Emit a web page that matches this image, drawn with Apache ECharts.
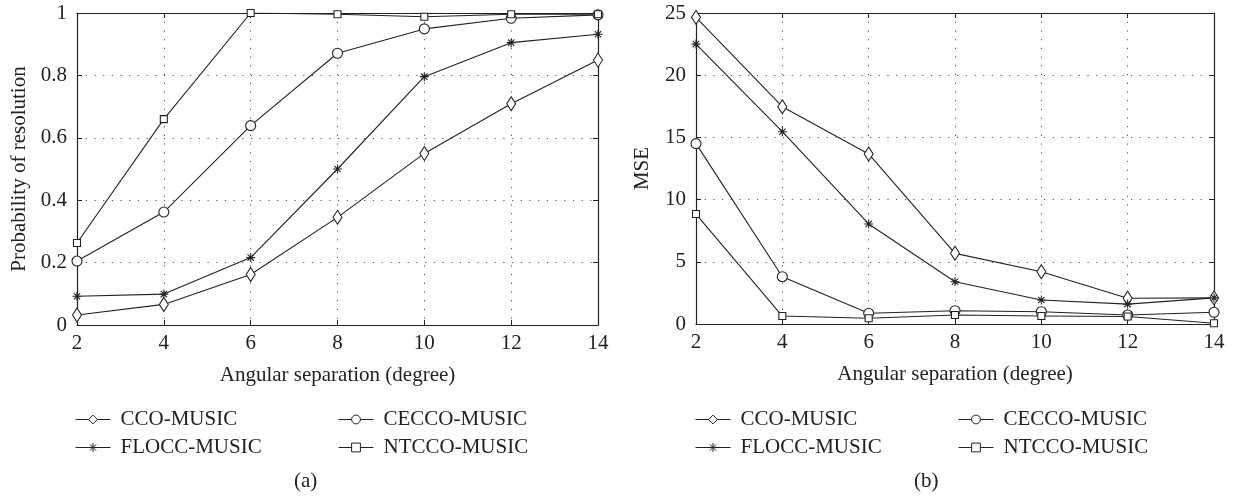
<!DOCTYPE html>
<html>
<head>
<meta charset="utf-8">
<script src="https://cdn.jsdelivr.net/npm/echarts@6/dist/echarts.min.js"></script>
<style>
html,body{margin:0;padding:0;background:#fff;}
#main{width:1233px;height:496px;}
</style>
</head>
<body>
<div id="main"></div>
<script>
// ---- data ----
const angles = [2, 4, 6, 8, 10, 12, 14];
const seriesNames = ['CCO-MUSIC', 'FLOCC-MUSIC', 'CECCO-MUSIC', 'NTCCO-MUSIC'];

const probCCO   = [0.032, 0.066, 0.162, 0.345, 0.550, 0.709, 0.849];
const probFLOCC = [0.092, 0.099, 0.216, 0.500, 0.796, 0.905, 0.932];
const probCECCO = [0.205, 0.362, 0.639, 0.871, 0.949, 0.983, 0.994];
const probNTCCO = [0.263, 0.660, 1.000, 0.996, 0.988, 0.996, 0.996];

const mseCCO   = [24.65, 17.47, 13.67, 5.68, 4.20, 2.07, 2.10];
const mseFLOCC = [22.50, 15.46, 8.04, 3.40, 1.93, 1.60, 2.10];
const mseCECCO = [14.50, 3.80, 0.86, 1.07, 0.99, 0.72, 0.94];
const mseNTCCO = [8.84, 0.64, 0.46, 0.72, 0.64, 0.60, 0.06];

const xTitle = 'Angular separation (degree)';
const yTitleA = 'Probability of resolution';
const yTitleB = 'MSE';
const panelLabels = ['(a)', '(b)'];

// ---- styles ----
const FONT = 'Liberation Serif';
const INK = '#222';
const FS = 21;
const starPath = 'path://M0,5L10,5M5,0L5,10M1.5,1.5L8.5,8.5M8.5,1.5L1.5,8.5';
const markers = {
  'CCO-MUSIC':   {symbol: 'diamond', size: [9, 14], fill: '#fff'},
  'FLOCC-MUSIC': {symbol: starPath, size: 9, fill: INK},
  'CECCO-MUSIC': {symbol: 'circle', size: 10, fill: '#fff'},
  'NTCCO-MUSIC': {symbol: 'rect', size: 7, fill: '#fff'}
};

function zip(xs, ys) { return xs.map((x, i) => [x, ys[i]]); }

function mkSeries(name, xi, yi, vals) {
  const m = markers[name];
  return {
    type: 'line', name: name, xAxisIndex: xi, yAxisIndex: yi,
    data: zip(angles, vals),
    symbol: m.symbol, symbolSize: m.size, showAllSymbol: true,
    color: INK,
    lineStyle: {color: INK, width: 1.1},
    itemStyle: {color: m.fill, borderColor: INK, borderWidth: 1.1},
    emphasis: {disabled: true},
    animation: false, z: 5
  };
}

const tickStyle = {show: true, inside: true, length: 5, lineStyle: {color: INK, width: 1}};
const splitStyle = {show: true, lineStyle: {color: '#555', width: 1, type: [1.2, 7.5]}};
const labelStyle = {fontFamily: FONT, fontSize: FS, color: INK};

function xMain(grid) {
  return {type: 'value', gridIndex: grid, min: 2, max: 14, interval: 2, position: 'bottom',
    axisLine: {show: true, onZero: false, lineStyle: {color: INK, width: 1.2}},
    axisTick: tickStyle, splitLine: splitStyle,
    axisLabel: Object.assign({margin: 8}, labelStyle),
    name: xTitle, nameLocation: 'middle', nameGap: 40,
    nameTextStyle: {fontFamily: FONT, fontSize: FS, color: INK}};
}
function xTop(grid) {
  return {type: 'value', gridIndex: grid, min: 2, max: 14, interval: 2, position: 'top',
    axisLine: {show: true, onZero: false, lineStyle: {color: INK, width: 1.2}},
    axisTick: tickStyle, splitLine: {show: false}, axisLabel: {show: false}};
}
function yMain(grid, max, interval, name, gap) {
  return {type: 'value', gridIndex: grid, min: 0, max: max, interval: interval, position: 'left',
    axisLine: {show: true, onZero: false, lineStyle: {color: INK, width: 1.2}},
    axisTick: tickStyle, splitLine: splitStyle,
    axisLabel: Object.assign({margin: 10}, labelStyle),
    name: name, nameLocation: 'middle', nameGap: gap,
    nameTextStyle: {fontFamily: FONT, fontSize: FS, color: INK}};
}
function yRight(grid, max, interval) {
  return {type: 'value', gridIndex: grid, min: 0, max: max, interval: interval, position: 'right',
    axisLine: {show: true, onZero: false, lineStyle: {color: INK, width: 1.2}},
    axisTick: tickStyle, splitLine: {show: false}, axisLabel: {show: false}};
}

function legendAt(name, left, top) {
  return {data: [name], left: left, top: top, padding: 0, itemWidth: 35, itemHeight: 11,
    selectedMode: false, inactiveColor: INK,
    lineStyle: {width: 1, color: INK},
    itemStyle: {borderWidth: 1, borderColor: INK},
    textStyle: {fontFamily: FONT, fontSize: 21, color: INK, padding: [0, 0, 0, 5]}};
}

const option = {
  backgroundColor: '#fff',
  animation: false,
  title: [
    {text: panelLabels[0], left: 294, top: 471, padding: 0,
     textStyle: {fontFamily: FONT, fontSize: 21, fontWeight: 'normal', color: INK}},
    {text: panelLabels[1], left: 914, top: 471, padding: 0,
     textStyle: {fontFamily: FONT, fontSize: 21, fontWeight: 'normal', color: INK}}
  ],
  grid: [
    {left: 77, right: 635, top: 13, bottom: 171},
    {left: 696, right: 19, top: 13, bottom: 172}
  ],
  xAxis: [xMain(0), xTop(0), xMain(1), xTop(1)],
  yAxis: [yMain(0, 1, 0.2, yTitleA, 47), yRight(0, 1, 0.2), yMain(1, 25, 5, yTitleB, 43), yRight(1, 25, 5)],
  legend: [
    legendAt(seriesNames[0], 75, 409),
    legendAt(seriesNames[1], 75, 437),
    legendAt(seriesNames[2], 338, 409),
    legendAt(seriesNames[3], 338, 437),
    legendAt(seriesNames[0], 695, 409),
    legendAt(seriesNames[1], 695, 437),
    legendAt(seriesNames[2], 958, 409),
    legendAt(seriesNames[3], 958, 437)
  ],
  series: [
    mkSeries(seriesNames[0], 0, 0, probCCO),
    mkSeries(seriesNames[1], 0, 0, probFLOCC),
    mkSeries(seriesNames[2], 0, 0, probCECCO),
    mkSeries(seriesNames[3], 0, 0, probNTCCO),
    mkSeries(seriesNames[0], 2, 2, mseCCO),
    mkSeries(seriesNames[1], 2, 2, mseFLOCC),
    mkSeries(seriesNames[2], 2, 2, mseCECCO),
    mkSeries(seriesNames[3], 2, 2, mseNTCCO)
  ]
};

const chart = echarts.init(document.getElementById('main'), null, {renderer: 'canvas'});
chart.setOption(option);
</script>
</body>
</html>
